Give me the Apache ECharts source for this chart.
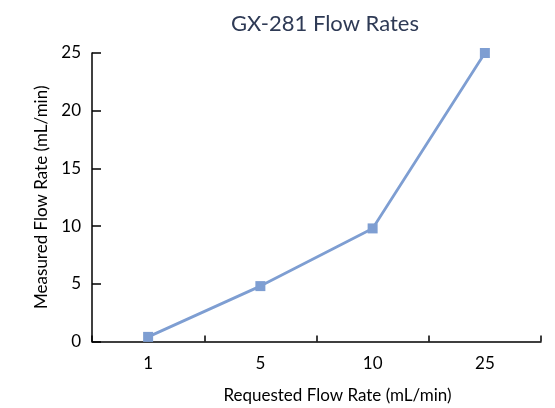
<!DOCTYPE html>
<html><head><meta charset="utf-8">
<script src="https://cdn.jsdelivr.net/npm/echarts@6/dist/echarts.min.js"></script>
<style>html,body{margin:0;padding:0;background:#fff}#c{width:555px;height:408px}</style>
</head><body><div id="c"></div>
<script>
const categories = ['1', '5', '10', '25'];
const measured = [0.4, 4.8, 9.8, 25.0];
const yTicks = [0, 5, 10, 15, 20, 25];

const font = 'Lato, "Open Sans", sans-serif';
const chart = echarts.init(document.getElementById('c'), null, {renderer: 'canvas'});
chart.setOption({
  animation: false,
  backgroundColor: '#ffffff',
  title: {
    text: 'GX-281 Flow Rates',
    left: 320, top: 8, textAlign: 'center',
    textStyle: {fontFamily: font, fontSize: 22, fontWeight: 'normal', color: '#2e3a55'}
  },
  grid: {left: 92, right: 14, top: 53, bottom: 66.5, containLabel: false, outerBoundsMode: 'none'},
  xAxis: {
    type: 'category', data: categories, boundaryGap: true,
    name: 'Requested Flow Rate (mL/min)', nameLocation: 'middle', nameGap: 46,
    nameTextStyle: {fontFamily: font, fontSize: 17, color: '#000', padding: [0, 0, 0, 42]},
    axisLine: {lineStyle: {color: '#000', width: 1.5}},
    axisTick: {show: true, inside: true, length: 6, lineStyle: {color: '#000', width: 1.5}},
    axisLabel: {fontFamily: font, fontSize: 17, color: '#000', margin: 14},
    splitLine: {show: false}
  },
  yAxis: {
    type: 'value', min: yTicks[0], max: yTicks[yTicks.length - 1], interval: 5,
    name: 'Measured Flow Rate (mL/min)', nameLocation: 'middle', nameGap: 39,
    nameTextStyle: {fontFamily: font, fontSize: 17, color: '#000'},
    axisLine: {show: true, lineStyle: {color: '#000', width: 1.5}},
    axisTick: {show: true, inside: true, length: 9, lineStyle: {color: '#000', width: 1.5}},
    axisLabel: {fontFamily: font, fontSize: 17, color: '#000', margin: 11},
    splitLine: {show: false}
  },
  series: [{
    type: 'line', data: measured,
    symbol: 'rect', symbolSize: 10,
    lineStyle: {color: '#7e9ed2', width: 2.8},
    itemStyle: {color: '#7e9ed2'}
  }]
});
</script></body></html>
